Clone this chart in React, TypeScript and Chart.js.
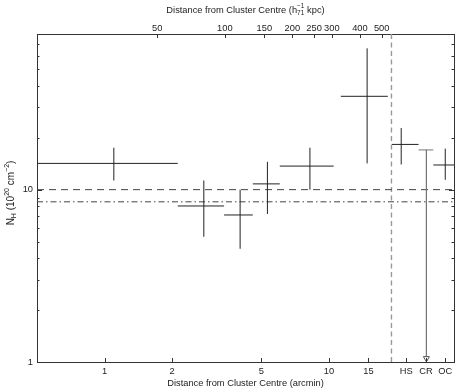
import React, { useEffect, useRef } from 'react';
import { Chart, registerables } from 'chart.js';

Chart.register(...registerables);

// ---------- data (distance in arcmin, N_H in 10^20 cm^-2) ----------
const binCentre = [1.10, 2.77, 4.02, 5.32, 8.23, 14.8, 21.0, 33.0];
const binLow = [0.5, 2.12, 3.41, 4.58, 6.04, 11.3, 19.1, 29.2];
const binHigh = [2.12, 3.41, 4.58, 6.04, 10.5, 18.3, 25.1, 36.1];
const nH = [14.2, 8.04, 7.13, 10.8, 13.7, 34.8, 18.3, 13.9];
const nHLow = [11.3, 5.33, 4.54, 7.22, 10.0, 14.2, 14.0, 11.4];
const nHHigh = [17.5, 11.3, 10.0, 14.5, 17.5, 66.1, 22.8, 17.3];

// CR region: upper limit
const crCentre = [27.2];
const crLow = [25.1];
const crHigh = [29.2];
const crUpper = [17.0];
const crFloor = [1.05];

// reference levels
const galacticDL = [10];
const galacticLAB = [8.5];
const regionEdge = [19];

// axes
const xMin = 0.5;
const xMax = 36.1;
const yMin = 1;
const yMax = 80;
const kpcPerArcmin = 29.1;
const xTickValues = [1, 2, 5, 10, 15, 22.1, 27.1, 33];
const xTickLabels = ['1', '2', '5', '10', '15', 'HS', 'CR', 'OC'];
const topTickValues = [50, 100, 150, 200, 250, 300, 400, 500];
const topTickLabels = ['50', '100', '150', '200', '250', '300', '400', '500'];
const yTickValues = [1, 10];
const yTickLabels = ['1', '10'];
const yMinorTicks = [2, 3, 4, 5, 6, 7, 8, 9, 20, 30, 40, 50, 60, 70];

const W = 463;
const H = 390;
const FONT = '"Liberation Sans", Arial, Helvetica, sans-serif';
const TXT = '#222';
const AX = '#333';

type Seg = { t?: string; s?: number; dy?: number; stack?: { t: string; s: number; dy: number }[] };

function segWidth(ctx: CanvasRenderingContext2D, seg: Seg) {
  if (seg.stack) {
    let m = 0;
    for (const it of seg.stack) {
      ctx.font = `${it.s}px ${FONT}`;
      m = Math.max(m, ctx.measureText(it.t).width);
    }
    return m;
  }
  ctx.font = `${seg.s}px ${FONT}`;
  return ctx.measureText(seg.t || '').width;
}

function drawRich(ctx: CanvasRenderingContext2D, segs: Seg[], cx: number, cy: number) {
  let total = 0;
  for (const sg of segs) total += segWidth(ctx, sg);
  let x = cx - total / 2;
  ctx.textBaseline = 'middle';
  ctx.textAlign = 'left';
  for (const sg of segs) {
    const w = segWidth(ctx, sg);
    if (sg.stack) {
      for (const it of sg.stack) {
        ctx.font = `${it.s}px ${FONT}`;
        ctx.fillText(it.t, x, cy + it.dy);
      }
    } else {
      ctx.font = `${sg.s}px ${FONT}`;
      ctx.fillText(sg.t || '', x, cy + (sg.dy || 0));
    }
    x += w;
  }
}

const decorPlugin = {
  id: 'decor',
  afterDraw(chart: any) {
    const { ctx, chartArea: a, scales } = chart;
    ctx.save();
    // inward tick marks
    ctx.strokeStyle = AX;
    ctx.lineWidth = 1;
    const line = (x1: number, y1: number, x2: number, y2: number) => {
      ctx.beginPath();
      ctx.moveTo(x1, y1);
      ctx.lineTo(x2, y2);
      ctx.stroke();
    };
    const ys = scales.y;
    for (const v of yTickValues) {
      const p = Math.round(ys.getPixelForValue(v)) + 0.5;
      line(a.left, p, a.left + 5, p);
      line(a.right, p, a.right - 5, p);
    }
    for (const v of yMinorTicks) {
      const p = Math.round(ys.getPixelForValue(v)) + 0.5;
      line(a.left, p, a.left + 2.5, p);
      line(a.right, p, a.right - 2.5, p);
    }
    const xs = scales.x;
    for (const v of xTickValues) {
      const p = Math.round(xs.getPixelForValue(v)) + 0.5;
      line(p, a.bottom, p, a.bottom - 4);
    }
    const xt = scales.x2;
    for (const v of topTickValues) {
      const p = Math.round(xt.getPixelForValue(v)) + 0.5;
      line(p, a.top, p, a.top + 4);
    }
    // titles
    ctx.fillStyle = TXT;
    const cx = (a.left + a.right) / 2;
    drawRich(ctx, [{ t: 'Distance from Cluster Centre (arcmin)', s: 9.3 }], cx, 383);
    drawRich(
      ctx,
      [
        { t: 'Distance from Cluster Centre (h', s: 9.3 },
        { stack: [{ t: '\u22121', s: 6.5, dy: -3.5 }, { t: '71', s: 6.5, dy: 3.5 }] },
        { t: ' kpc)', s: 9.3 },
      ],
      cx,
      10
    );
    ctx.save();
    ctx.translate(11, 193);
    ctx.rotate(-Math.PI / 2);
    drawRich(
      ctx,
      [
        { t: 'N', s: 10 },
        { t: 'H', s: 7, dy: 3 },
        { t: ' (10', s: 10 },
        { t: '20', s: 7, dy: -3.7 },
        { t: ' cm', s: 10 },
        { t: '\u22122', s: 7, dy: -3.7 },
        { t: ')', s: 10 },
      ],
      0,
      0
    );
    ctx.restore();
    ctx.restore();
  },
};

export default function App() {
  const ref = useRef<HTMLCanvasElement>(null);

  useEffect(() => {
    if (!ref.current) return;

    const crossData: any[] = [];
    binCentre.forEach((c, i) => {
      crossData.push(
        { x: binLow[i], y: nH[i] },
        { x: binHigh[i], y: nH[i] },
        { x: c, y: null },
        { x: c, y: nHLow[i] },
        { x: c, y: nHHigh[i] },
        { x: c, y: null }
      );
    });
    const crData = [
      { x: crLow[0], y: crUpper[0] },
      { x: crHigh[0], y: crUpper[0] },
      { x: crCentre[0], y: null },
      { x: crCentre[0], y: crUpper[0] },
      { x: crCentre[0], y: crFloor[0] },
    ];

    const tickFont = { family: FONT, size: 9.3 };

    const chart = new Chart(ref.current, {
      type: 'scatter',
      data: {
        datasets: [
          {
            data: crossData,
            showLine: true,
            spanGaps: false,
            borderColor: '#222',
            borderWidth: 1,
            pointRadius: 0,
          },
          {
            data: crData,
            showLine: true,
            spanGaps: false,
            borderColor: '#777',
            borderWidth: 1,
            pointRadius: (c: any) => (c.dataIndex === 4 ? 3.5 : 0),
            pointStyle: 'triangle',
            rotation: 180,
            pointBackgroundColor: '#fff',
            pointBorderColor: '#555',
            pointBorderWidth: 1,
            clip: false,
          },
          {
            data: [
              { x: xMin, y: galacticDL[0] },
              { x: xMax, y: galacticDL[0] },
            ],
            showLine: true,
            borderColor: '#444',
            borderWidth: 1,
            borderDash: [7, 5],
            pointRadius: 0,
          },
          {
            data: [
              { x: xMin, y: galacticLAB[0] },
              { x: xMax, y: galacticLAB[0] },
            ],
            showLine: true,
            borderColor: '#444',
            borderWidth: 1,
            borderDash: [6, 3, 1.5, 3],
            pointRadius: 0,
          },
          {
            data: [
              { x: regionEdge[0], y: yMin },
              { x: regionEdge[0], y: yMax },
            ],
            showLine: true,
            borderColor: '#999',
            borderWidth: 1.4,
            borderDash: [5, 3.5],
            pointRadius: 0,
          },
        ],
      },
      options: {
        responsive: false,
        animation: false,
        events: [],
        layout: { padding: 0 },
        plugins: { legend: { display: false }, tooltip: { enabled: false } },
        scales: {
          x: {
            type: 'logarithmic',
            position: 'bottom',
            min: xMin,
            max: xMax,
            grid: { display: false, drawTicks: false },
            border: { display: true, color: AX, width: 1 },
            afterBuildTicks: (s: any) => {
              s.ticks = xTickValues.map((v) => ({ value: v }));
            },
            afterFit: (s: any) => {
              s.height = 28;
            },
            ticks: {
              autoSkip: false,
              maxRotation: 0,
              padding: 4,
              color: TXT,
              font: tickFont,
              callback: (_v: any, i: number) => xTickLabels[i],
            },
          },
          x2: {
            type: 'logarithmic',
            position: 'top',
            min: xMin * kpcPerArcmin,
            max: xMax * kpcPerArcmin,
            grid: { display: false, drawTicks: false },
            border: { display: true, color: AX, width: 1 },
            afterBuildTicks: (s: any) => {
              s.ticks = topTickValues.map((v) => ({ value: v }));
            },
            afterFit: (s: any) => {
              s.height = 34;
            },
            ticks: {
              autoSkip: false,
              maxRotation: 0,
              padding: 0,
              color: TXT,
              font: tickFont,
              callback: (_v: any, i: number) => topTickLabels[i],
            },
          },
          y: {
            type: 'logarithmic',
            position: 'left',
            min: yMin,
            max: yMax,
            grid: { display: false, drawTicks: false },
            border: { display: true, color: AX, width: 1 },
            afterBuildTicks: (s: any) => {
              s.ticks = yTickValues.map((v) => ({ value: v }));
            },
            afterFit: (s: any) => {
              s.width = 37;
            },
            ticks: {
              autoSkip: false,
              padding: 4,
              color: TXT,
              font: tickFont,
              callback: (_v: any, i: number) => yTickLabels[i],
            },
          },
          y2: {
            type: 'logarithmic',
            position: 'right',
            min: yMin,
            max: yMax,
            grid: { display: false, drawTicks: false },
            border: { display: true, color: AX, width: 1 },
            afterFit: (s: any) => {
              s.width = 9;
            },
            ticks: { display: false },
          },
        },
      } as any,
      plugins: [decorPlugin as any],
    });
    return () => chart.destroy();
  }, []);

  return (
    <div style={{ position: 'fixed', left: 0, top: 0, width: W, height: H, background: '#fff' }}>
      <canvas ref={ref} width={W} height={H} style={{ display: 'block' }} />
    </div>
  );
}
